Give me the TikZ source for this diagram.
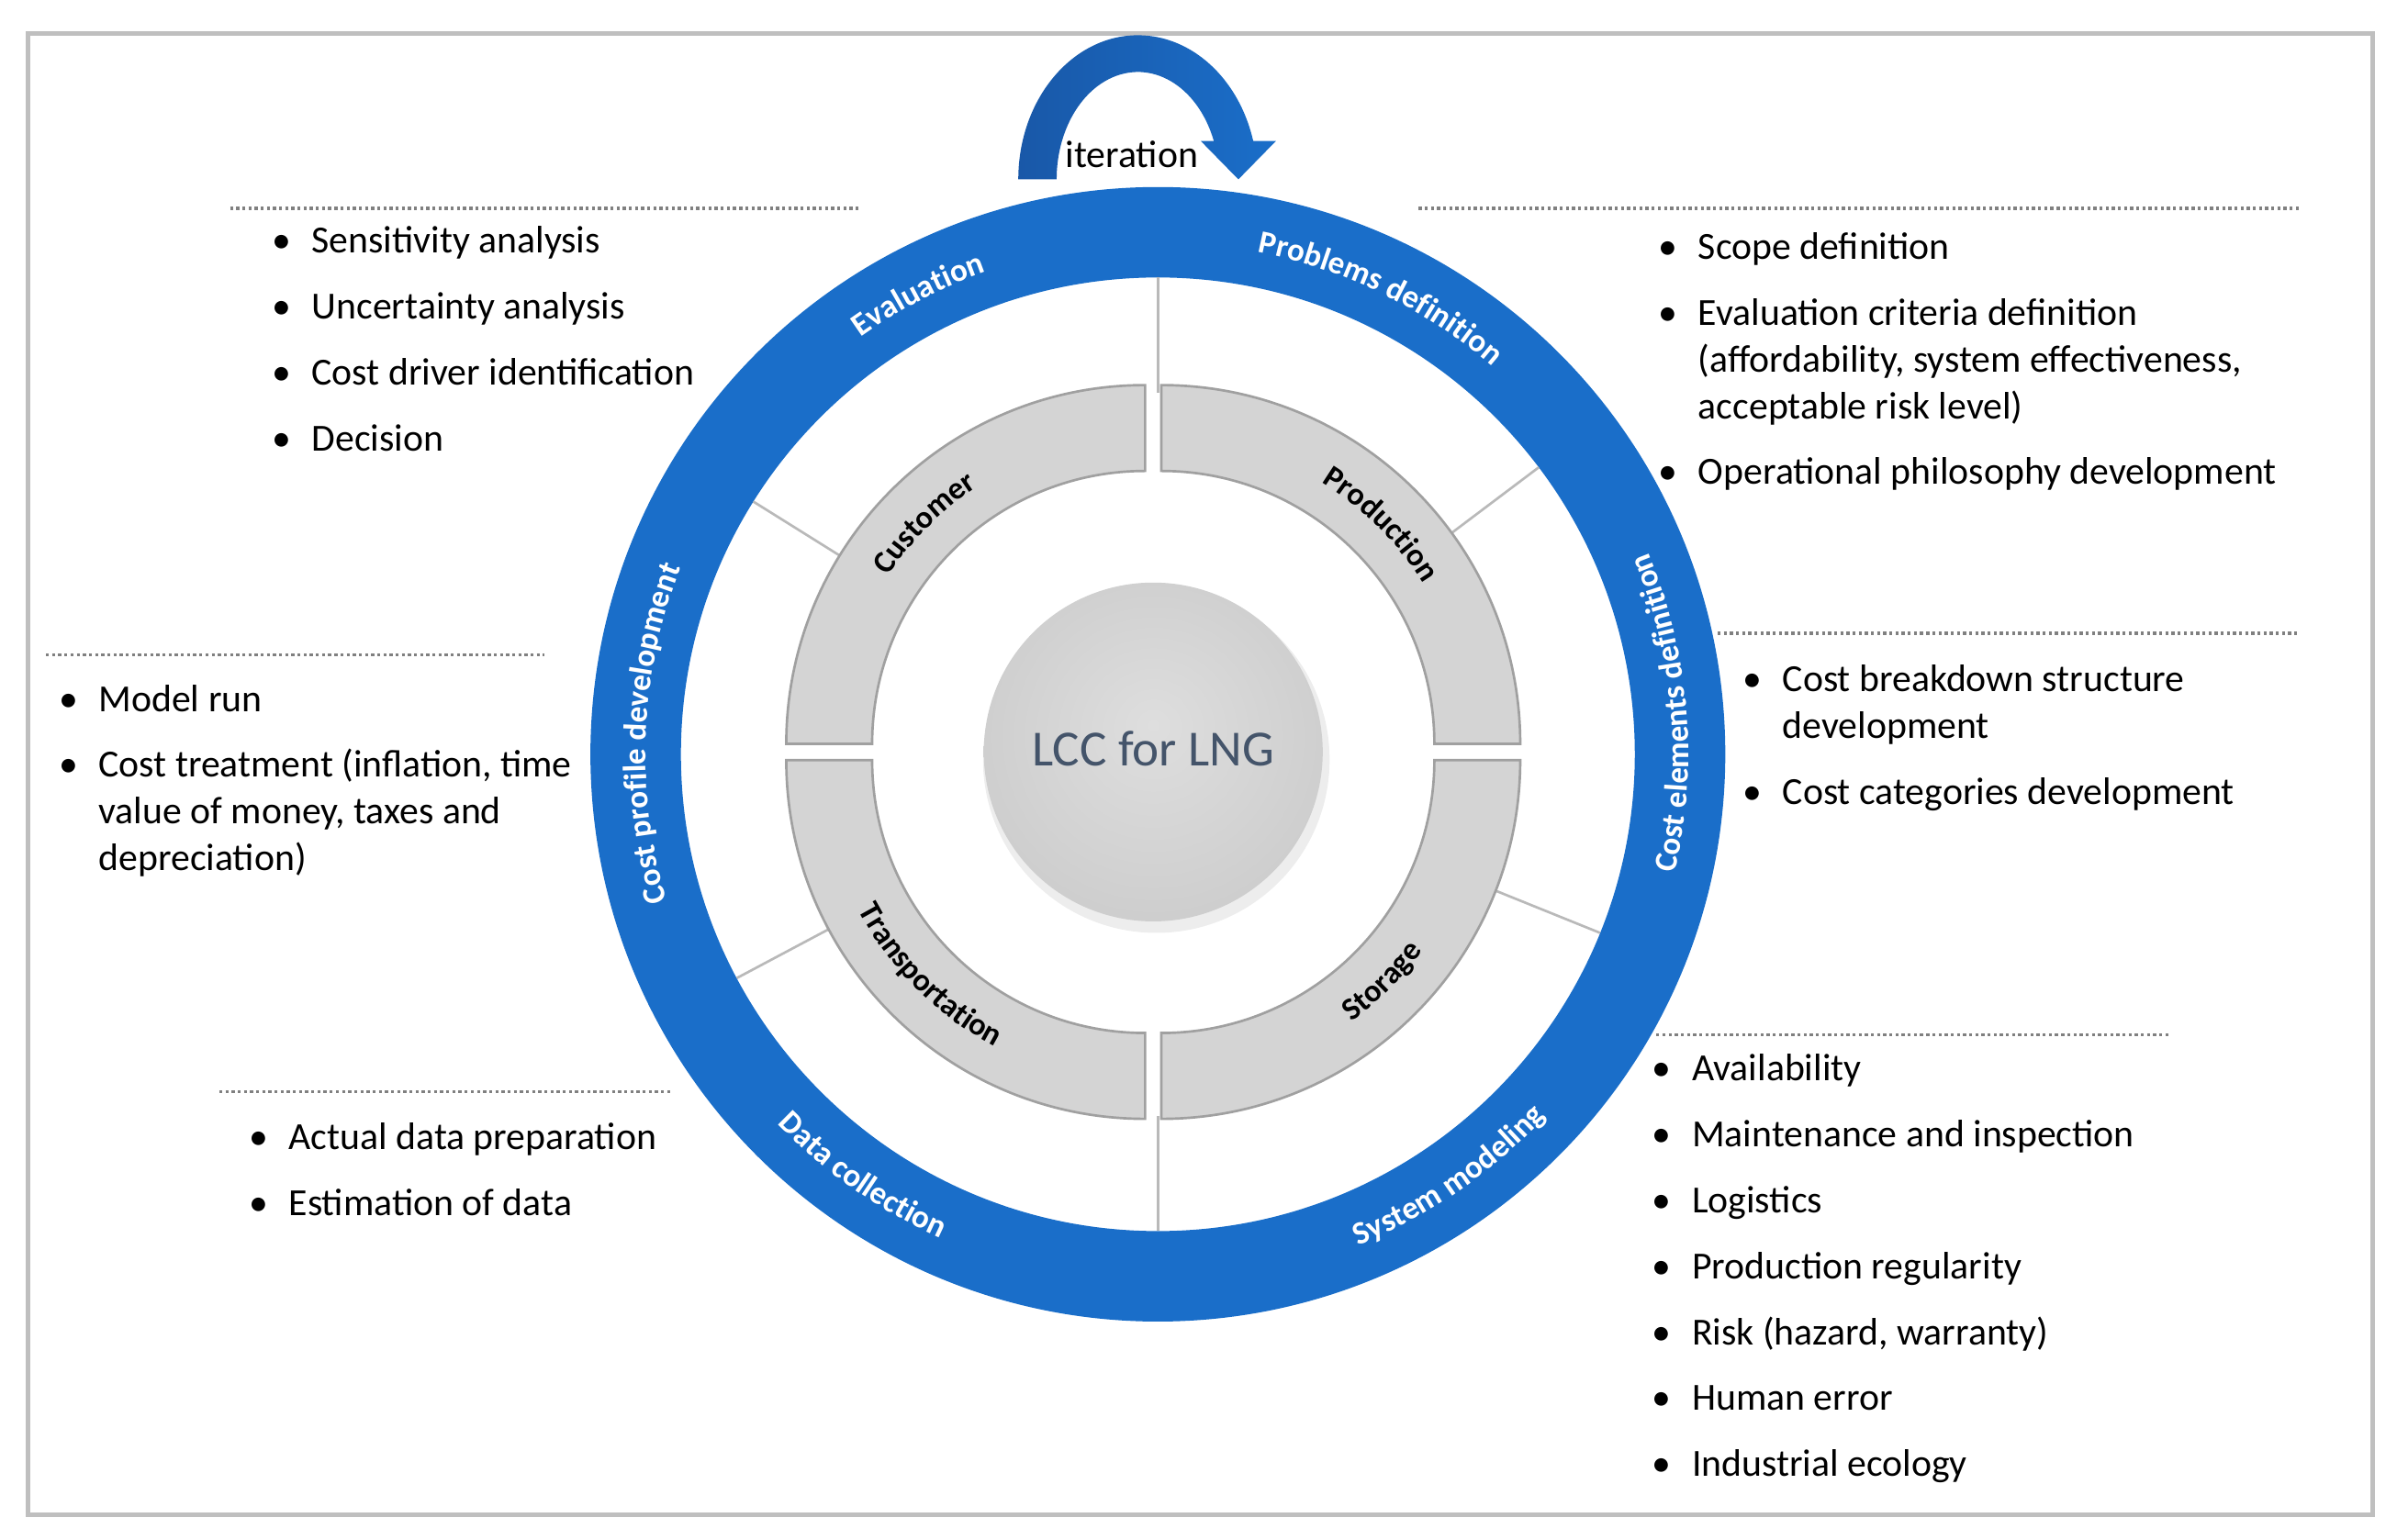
\documentclass[tikz,border=0pt]{standalone}
\usepackage{fontspec}
\setmainfont{Carlito}
\usetikzlibrary{calc}
\usetikzlibrary{decorations.text}
\definecolor{ringblue}{RGB}{26,110,201}
\definecolor{arrowdark}{RGB}{25,88,168}
\definecolor{segfill}{RGB}{212,212,212}
\definecolor{segline}{RGB}{160,160,160}
\definecolor{sepgray}{RGB}{185,185,185}
\definecolor{framegray}{RGB}{191,191,191}
\definecolor{lcctxt}{RGB}{68,84,106}
\definecolor{ballin}{RGB}{222,222,222}
\definecolor{ballmid}{RGB}{205,205,205}
\definecolor{ballout}{RGB}{178,178,178}
\pgfdeclareradialshading{ballshade}{\pgfpoint{0bp}{4bp}}{color(0bp)=(ballin); color(28bp)=(ballmid); color(50bp)=(ballout)}
\newcommand{\bitem}[1]{\par\noindent\hangindent=13pt\hangafter=1\makebox[13pt][l]{\textbullet}#1}
\newcommand{\blist}[1]{\begin{minipage}[t]{260pt}\fontsize{12.5}{15.25}\selectfont\setlength{\parskip}{6.25pt}#1\end{minipage}}
\newcommand{\ringfont}{\bfseries\fontsize{10.5}{12}\selectfont}
\newcommand{\segfont}{\bfseries\fontsize{10.3}{12}\selectfont}

\begin{document}
\begin{tikzpicture}[x=0.5pt,y=0.5pt,
    blk/.style={anchor=base west, inner sep=0pt},
    dotline/.style={gray, line width=1pt, dash pattern=on 1pt off 1pt},
    segbox/.style={fill=segfill, draw=segline, line width=0.8pt},
    sepline/.style={sepgray, line width=0.8pt},
    ringtxt/.style={decorate, decoration={text along path, text align=center, text color=white, text={|\ringfont|#1}}},
    segtxt/.style={decorate, decoration={text along path, text align=center, text={|\segfont|#1}}}]
    \useasboundingbox (-755,-512) rectangle (808,492);
    \draw[framegray, line width=1.5pt] (-737,-496) rectangle (792,470);

    % blue ring and separators
    \draw[ringblue, line width=29.5pt] (0,0) circle (340.5);
    \foreach \a in {90,148,37,-22,270,208}
        \draw[sepline] (\a:236) -- (\a:311);

    % grey quarter segments
    \coordinate (m) at (-3,1.5);
    \foreach \a/\sx/\sy in {0/5.3/5.3,90/-5.3/5.3,180/-5.3/-5.3,270/5.3/-5.3}
        \draw[segbox, shift={($(m)+(\sx,\sy)$)}] (\a:178) -- (\a:234) arc (\a:\a+90:234) -- (\a+90:178) arc (\a+90:\a:178) -- cycle;

    % centre ball
    \fill[black, opacity=0.07] ($(m)+(2,-5)$) circle (113);
    \shade[shading=ballshade] (m) circle (110.5);
    \node[font=\fontsize{16.5}{20}\selectfont, text=lcctxt] (lcc) at ($(m)+(0,2)$) {LCC for LNG};

    % ring labels
    \path[ringtxt=Evaluation] (152.5:334) arc (152.5:82.5:334);
    \path[ringtxt=Problems definition] (99:334) arc (99:29:334);
    \path[ringtxt=Cost elements definition] (-30.3:346) arc (-30.3:39.7:346);
    \path[ringtxt=System modeling] (-90.4:346) arc (-90.4:-20.4:346);
    \path[ringtxt=Data collection] (200:346) arc (200:270:346);
    \path[ringtxt=Cost profile development] (212.6:334) arc (212.6:142.6:334);

    % segment labels
    \path[segtxt=Customer, shift={($(m)+(-5.3,5.3)$)}] (180:200) arc (180:90:200);
    \path[segtxt=Production, shift={($(m)+(5.3,5.3)$)}] (90:200) arc (90:0:200);
    \path[segtxt=Storage, shift={($(m)+(5.3,-5.3)$)}] (-90:211) arc (-90:0:211);
    \path[segtxt=Transportation, shift={($(m)+(-5.3,-5.3)$)}] (180:211) arc (180:270:211);

    % iteration arrow
    \shade[left color=arrowdark, right color=ringblue] (-91,375) arc (180:15.4:78 and 94) -- (77,400) -- (52.5,375) -- (28,400) -- (36.5,400) arc (20.9:180:53 and 70) -- cycle;
    \node[font=\fontsize{12.5}{15}\selectfont] (iter) at (-17,391) {iteration};

    % dotted rules
    \draw[dotline] (-605,356) -- (-193,356);
    \draw[dotline] (170,356) -- (745,356);
    \draw[dotline] (365,79) -- (745,79);
    \draw[dotline] (325,-183) -- (660,-183);
    \draw[dotline] (-725,65) -- (-400,65);
    \draw[dotline] (-612,-220) -- (-318,-220);

    % bullet lists
    \node[blk] (evlist) at (-578,327) {\blist{\bitem{Sensitivity analysis}\bitem{Uncertainty analysis}\bitem{Cost driver identification}\bitem{Decision}}};
    \node[blk] (problist) at (326,323) {\blist{\bitem{Scope definition}\bitem{Evaluation criteria definition\\(affordability, system effectiveness,\\acceptable risk level)}\bitem{Operational philosophy development}}};
    \node[blk] (elemlist) at (381,41) {\blist{\bitem{Cost breakdown structure\\development}\bitem{Cost categories development}}};
    \node[blk] (syslist) at (322,-213) {\blist{\bitem{Availability}\bitem{Maintenance and inspection}\bitem{Logistics}\bitem{Production regularity}\bitem{Risk (hazard, warranty)}\bitem{Human error}\bitem{Industrial ecology}}};
    \node[blk] (proflist) at (-717,28) {\blist{\bitem{Model run}\bitem{Cost treatment (inflation, time\\value of money, taxes and\\depreciation)}}};
    \node[blk] (datalist) at (-593,-258) {\blist{\bitem{Actual data preparation}\bitem{Estimation of data}}};
\end{tikzpicture}
\end{document}
